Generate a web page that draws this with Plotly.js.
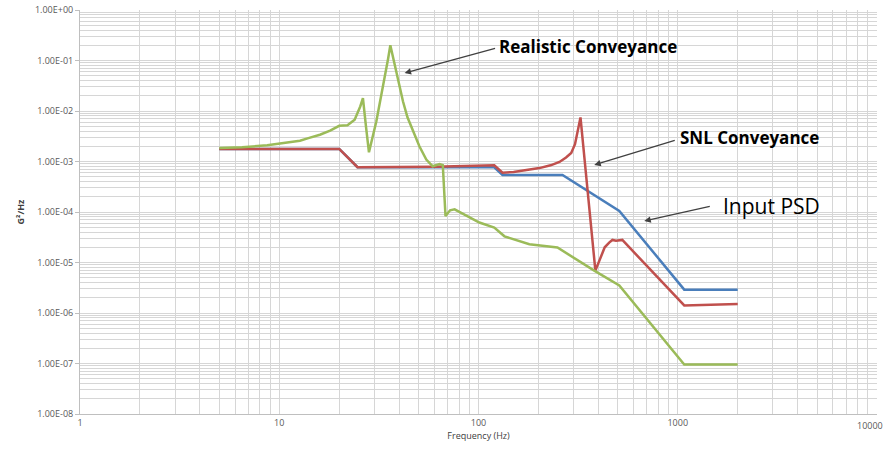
<!DOCTYPE html>
<html>
<head>
<meta charset="utf-8">
<script src="https://cdn.plot.ly/plotly-3.0.1.min.js"></script>
<style>html,body{margin:0;padding:0;background:#fff;}#chart{width:886px;height:452px;}</style>
</head>
<body>
<div id="chart"></div>
<script>
// Input PSD (blue)
const freqInput = [5, 20, 24.7, 120, 132, 264, 509, 1078, 2000];
const psdInput  = [1.77e-3, 1.77e-3, 7.7e-4, 7.7e-4, 5.4e-4, 5.4e-4, 1.05e-4, 2.9e-6, 2.9e-6];

// SNL Conveyance (red)
const freqSNL = [5, 20, 24.7, 60, 120, 132, 150, 180, 202, 230, 255, 275, 292, 305, 313, 325, 386, 410, 430, 454, 470, 490, 527, 1078, 2000];
const psdSNL  = [1.77e-3, 1.77e-3, 7.7e-4, 7.9e-4, 8.4e-4, 6.0e-4, 6.2e-4, 6.8e-4, 7.4e-4, 8.4e-4, 9.8e-4, 1.2e-3, 1.47e-3, 2.2e-3, 3.44e-3, 7.45e-3, 6.9e-6, 1.3e-5, 2.0e-5, 2.5e-5, 2.8e-5, 2.7e-5, 2.8e-5, 1.41e-6, 1.5e-6];

// Realistic Conveyance (green)
const freqReal = [5, 6.5, 8.7, 10.5, 12.7, 14, 16, 18, 20, 22, 23.9, 25.5, 26.3, 27.3, 28.2, 30.7, 32.2, 33.8, 35.2, 36.1, 37.3, 38.7, 40.2, 41.8, 44, 46.9, 50.5, 54.7, 58.9, 63.8, 66.2, 68.3, 72, 75.9, 101, 120, 135, 180, 249, 381, 509, 1078, 2000];
const psdReal  = [1.85e-3, 1.92e-3, 2.09e-3, 2.3e-3, 2.58e-3, 2.9e-3, 3.39e-3, 4.1e-3, 5.1e-3, 5.2e-3, 6.7e-3, 1.23e-2, 1.79e-2, 4.6e-3, 1.52e-3, 6.2e-3, 1.6e-2, 4.4e-2, 1.1e-1, 0.20, 1.1e-1, 6.0e-2, 3.0e-2, 1.54e-2, 7.5e-3, 3.94e-3, 2.0e-3, 1.09e-3, 8.05e-4, 8.9e-4, 8.5e-4, 8.3e-5, 1.08e-4, 1.13e-4, 6.2e-5, 4.9e-5, 3.3e-5, 2.3e-5, 1.98e-5, 6.9e-6, 3.5e-6, 9.5e-8, 9.5e-8];

const xTickVals = [1, 10, 100, 1000, 10000];
const xTickText = ['1', '10', '100', '1000', '10000'];
const yTickVals = [1, 1e-1, 1e-2, 1e-3, 1e-4, 1e-5, 1e-6, 1e-7, 1e-8];
const yTickText = ['1.00E+00', '1.00E-01', '1.00E-02', '1.00E-03', '1.00E-04', '1.00E-05', '1.00E-06', '1.00E-07', '1.00E-08'];

const gridCol = '#d6d6d6';
const FONT = 'Open Sans, Liberation Sans, sans-serif';

const traces = [
  {x: freqInput, y: psdInput, mode: 'lines', name: 'Input PSD', line: {color: '#4a7ebb', width: 2.5}},
  {x: freqSNL, y: psdSNL, mode: 'lines', name: 'SNL Conveyance', line: {color: '#c0504d', width: 2.5}},
  {x: freqReal, y: psdReal, mode: 'lines', name: 'Realistic Conveyance', line: {color: '#9bbb59', width: 2.5}}
];

const arrowStyle = {showarrow: true, arrowhead: 2, arrowsize: 1, arrowwidth: 1.3, arrowcolor: '#404040', text: '', axref: 'pixel', ayref: 'pixel'};

// last x tick label is placed right-aligned so it stays inside the page
const lastIdx = xTickText.length - 1;
const xTickTextShown = xTickText.map((t, i) => i === lastIdx ? '' : t);

const layout = {
  width: 886, height: 452,
  margin: {l: 80, r: 9, t: 10, b: 38},
  paper_bgcolor: '#ffffff', plot_bgcolor: '#ffffff',
  showlegend: false,
  font: {family: FONT, size: 9, color: '#595959'},
  xaxis: {
    type: 'log', range: [0, 4],
    tickmode: 'array', tickvals: xTickVals, ticktext: xTickTextShown,
    showgrid: true, gridcolor: gridCol, gridwidth: 1,
    minor: {dtick: 'D1', showgrid: true, gridcolor: gridCol, gridwidth: 1, ticks: ''},
    showline: true, linecolor: '#bfbfbf', linewidth: 1,
    ticks: '', zeroline: false,
    tickfont: {size: 9, color: '#595959'},
    title: {text: 'Frequency (Hz)', font: {size: 9, color: '#404040', family: FONT}, standoff: 4}
  },
  yaxis: {
    type: 'log', range: [-8, 0],
    tickmode: 'array', tickvals: yTickVals, ticktext: yTickText,
    showgrid: true, gridcolor: gridCol, gridwidth: 1,
    minor: {dtick: 'D1', showgrid: true, gridcolor: gridCol, gridwidth: 1, ticks: ''},
    showline: true, linecolor: '#bfbfbf', linewidth: 1,
    ticks: 'outside', ticklen: 4, tickcolor: '#bfbfbf', zeroline: false,
    tickfont: {size: 9, color: '#595959'},
    title: {text: '<b>G²/Hz</b>', font: {size: 9, color: '#404040', family: FONT}, standoff: 8}
  },
  annotations: [
    {xref: 'paper', yref: 'paper', x: 1.0095, y: 0, yshift: -3, xanchor: 'right', yanchor: 'top',
     showarrow: false, text: xTickText[lastIdx], font: {family: FONT, size: 9, color: '#595959'}},
    Object.assign({x: 1.629, y: -1.248, ax: 92, ay: -25}, arrowStyle),
    Object.assign({x: 2.581, y: -3.069, ax: 82, ay: -25}, arrowStyle),
    Object.assign({x: 2.832, y: -4.178, ax: 67, ay: -15}, arrowStyle),
    {x: 2.095, y: -0.713, xanchor: 'left', yanchor: 'middle', showarrow: false,
     text: '<b>Realistic Conveyance</b>', font: {family: FONT, size: 17, color: '#000000'}},
    {x: 3.003, y: -2.515, xanchor: 'left', yanchor: 'middle', showarrow: false,
     text: '<b>SNL Conveyance</b>', font: {family: FONT, size: 17, color: '#000000'}},
    {x: 3.218, y: -3.881, xanchor: 'left', yanchor: 'middle', showarrow: false,
     text: 'Input PSD', font: {family: FONT, size: 21, color: '#000000'}}
  ]
};

Plotly.newPlot('chart', traces, layout, {displayModeBar: false, staticPlot: true});
</script>
</body>
</html>
